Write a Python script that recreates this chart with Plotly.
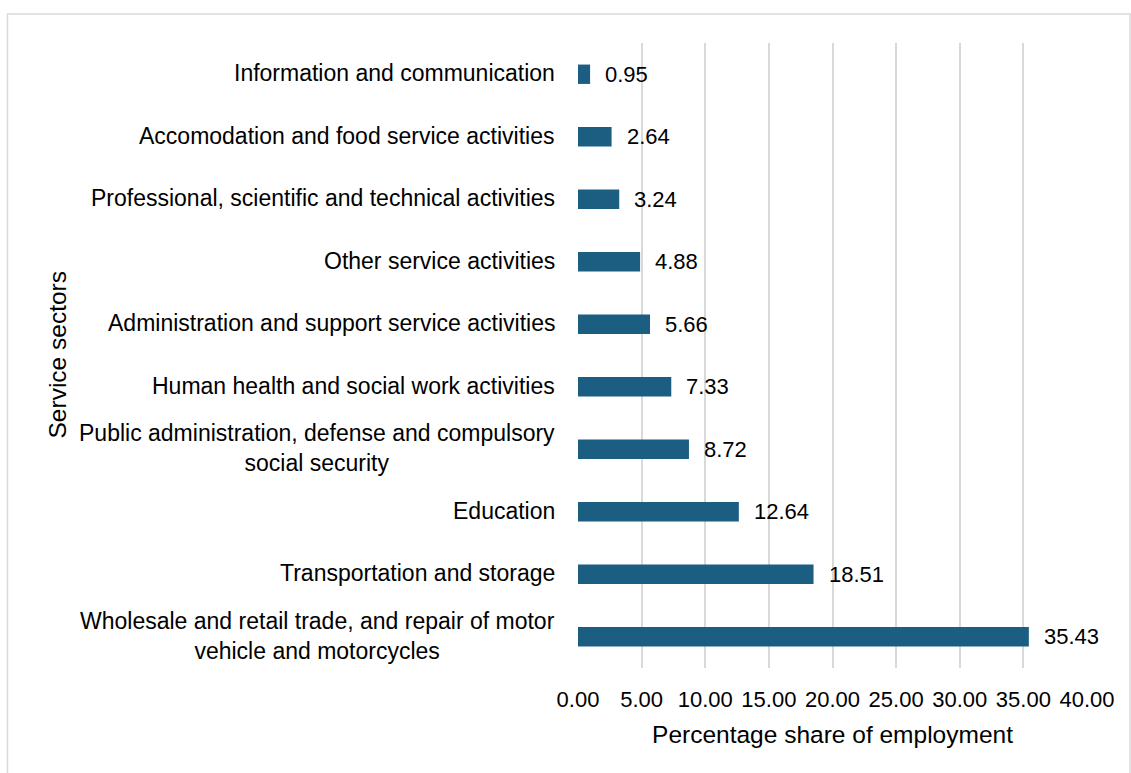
import plotly.graph_objects as go

# Service sectors, listed top to bottom as they appear on the chart
sectors = [
    "Information and communication",
    "Accomodation and food service activities",
    "Professional, scientific and technical activities",
    "Other service activities",
    "Administration and support service activities",
    "Human health and social work activities",
    "Public administration, defense and compulsory<br>social security",
    "Education",
    "Transportation and storage",
    "Wholesale and retail trade, and repair of motor<br>vehicle and motorcycles",
]
shares = [0.95, 2.64, 3.24, 4.88, 5.66, 7.33, 8.72, 12.64, 18.51, 35.43]
x_ticks = [0, 5, 10, 15, 20, 25, 30, 35, 40]
x_tick_labels = [f"{v:.2f}" for v in x_ticks]

FONT = "Liberation Sans, Arial, sans-serif"
BAR_COLOR = "#1b5e82"
GRID = "#d9d9d9"

W, H = 1131, 773
M_L, M_R, M_T, M_B = 578, 44, 43, 105
PW, PH = W - M_L - M_R, H - M_T - M_B


def px_x(p):
    return (p - M_L) / PW


def px_y(p):
    return 1 - (p - M_T) / PH


fig = go.Figure(
    go.Bar(
        x=shares,
        y=sectors,
        orientation="h",
        marker=dict(color=BAR_COLOR, line=dict(width=0)),
        hoverinfo="x+y",
    )
)

annotations = []
# category labels, centred line-by-line and right-aligned to the axis
for s in sectors:
    annotations.append(dict(
        x=0, xref="paper", y=s, yref="y", xanchor="right", yanchor="middle",
        xshift=-21, yshift=1, text=s, align="center", showarrow=False,
        font=dict(family=FONT, size=23, color="#000000"),
    ))
# value labels beside each bar
for s, v in zip(sectors, shares):
    annotations.append(dict(
        x=v, xref="x", y=s, yref="y", xanchor="left", yanchor="middle",
        xshift=13, text=f"{v:.2f}", showarrow=False,
        font=dict(family=FONT, size=22, color="#000000"),
    ))
# y-axis title
annotations.append(dict(
    x=px_x(57), xref="paper", y=0.5, yref="paper", xanchor="center",
    yanchor="middle", text="Service sectors", textangle=-90, showarrow=False,
    font=dict(family=FONT, size=24.5, color="#000000"),
))

fig.update_layout(
    width=W, height=H,
    margin=dict(l=M_L, r=M_R, t=M_T, b=M_B, autoexpand=False),
    paper_bgcolor="white", plot_bgcolor="white",
    bargap=0.69,
    showlegend=False,
    font=dict(family=FONT, color="#000000"),
    xaxis=dict(
        range=[0, 40], tickvals=x_ticks, ticktext=x_tick_labels,
        showgrid=True, gridcolor=GRID, gridwidth=2,
        zeroline=False, showline=False, ticks="",
        tickfont=dict(family=FONT, size=22, color="#000000"),
        ticklabelstandoff=16,
        title=dict(text="Percentage share of employment", standoff=14,
                   font=dict(family=FONT, size=24.5, color="#000000")),
    ),
    yaxis=dict(
        autorange="reversed", showticklabels=False, showgrid=False,
        zeroline=False, showline=False, ticks="",
    ),
    annotations=annotations,
    shapes=[dict(
        type="rect", xref="paper", yref="paper",
        x0=px_x(7.5), x1=px_x(1130), y0=px_y(790), y1=px_y(14),
        line=dict(color=GRID, width=1.5), fillcolor="rgba(0,0,0,0)",
        layer="below",
    )],
)

fig.write_html("out.html")
